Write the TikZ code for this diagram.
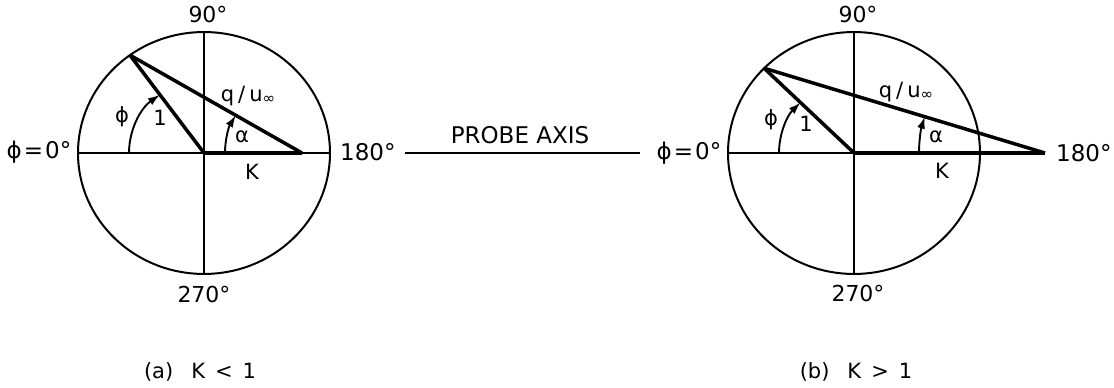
\documentclass[tikz,border=0pt]{standalone}
\usepackage{fontspec}
\setmainfont{DejaVu Sans}
\usetikzlibrary{arrows.meta}

\tikzset{
  rim/.style={line width=2pt},
  vec/.style={line width=3.5pt},
  ang/.style={line width=1.9pt,->},
  deg/.style={inner sep=0pt,font=\fontsize{22}{22}\selectfont},
  bigdeg/.style={inner sep=0pt,font=\fontsize{23}{23}\selectfont},
  sym/.style={inner sep=0pt,font=\fontsize{21}{21}\selectfont},
  caption/.style={inner sep=0pt,font=\fontsize{21}{21}\selectfont}
}
\newcommand{\qu}{q\hspace{4pt}/\hspace{4pt}u\raisebox{-2pt}{\fontsize{15}{15}\selectfont ∞}}
\newcommand{\phizero}{ϕ\hspace{2pt}=\hspace{2pt}0°}

\begin{document}
\begin{tikzpicture}[x=1pt,y=1pt,>={Latex[length=12pt,width=8pt]}]
\useasboundingbox (0,0) rectangle (1114,388);

% (a) K < 1
\begin{scope}[shift={(204,235)},yscale=0.96]
  \coordinate (Oa) at (0,0);
  \coordinate (Pa) at (126:126);
  \coordinate (Ka) at (98,0);
  \draw[rim] (Oa) circle[radius=126];
  \draw[rim] (-126,0) -- (126,0);
  \draw[rim] (0,-126) -- (0,126);
  \draw[vec] (Oa) -- (Ka);
  \draw[vec] (Oa) -- (Pa);
  \draw[vec] (Pa) -- (Ka);
  \draw[ang] (180:75) arc[start angle=180,end angle=126,radius=75];
  \draw[ang] (21,0) arc[start angle=180,end angle=149.4,radius=77];
\end{scope}

\node[deg] (a90) at (208,374) {90°};
\node[deg] (a270) at (204,94) {270°};
\node[bigdeg,anchor=west] (a180) at (340,236) {180°};
\node[bigdeg] (a0) at (39,236) {\phizero};
\node[sym] (aq) at (248,292) {\qu};
\node[sym] (aone) at (160,270) {1};
\node[sym] (aphi) at (122,271) {ϕ};
\node[sym] (aalpha) at (242,251) {α};
\node[sym] (aK) at (252,216) {K};

% probe axis
\coordinate (probeL) at (405,235.3);
\coordinate (probeR) at (640,235.3);
\draw[rim] (probeL) -- (probeR);
\node[inner sep=0pt,font=\fontsize{23}{23}\selectfont] (probe) at (520,253) {PROBE AXIS};

% (b) K > 1
\begin{scope}[shift={(854,235)},yscale=0.96]
  \coordinate (Ob) at (0,0);
  \coordinate (Pb) at (135.5:126);
  \coordinate (Kb) at (191,0);
  \draw[rim] (Ob) circle[radius=126];
  \draw[rim] (-126,0) -- (Kb);
  \draw[rim] (0,-126) -- (0,126);
  \draw[vec] (Ob) -- (Kb);
  \draw[vec] (Ob) -- (Pb);
  \draw[vec] (Pb) -- (Kb);
  \draw[ang] (180:75) arc[start angle=180,end angle=135.5,radius=75];
  \draw[ang] (65,0) arc[start angle=180,end angle=162.55,radius=126];
\end{scope}

\node[deg] (b90) at (858,374) {90°};
\node[deg] (b270) at (858,95) {270°};
\node[bigdeg,anchor=west] (b180) at (1056,235) {180°};
\node[bigdeg] (b0) at (689,235) {\phizero};
\node[sym] (bq) at (906,296) {\qu};
\node[sym] (bone) at (806,264) {1};
\node[sym] (bphi) at (771,268) {ϕ};
\node[sym] (balpha) at (936,251) {α};
\node[sym] (bK) at (942,217) {K};

% captions
\node[caption] (capa) at (200,16) {(a)\hspace{18pt}K\hspace{10pt}<\hspace{10pt}1};
\node[caption] (capb) at (856,16) {(b)\hspace{18pt}K\hspace{10pt}>\hspace{10pt}1};
\end{tikzpicture}
\end{document}
